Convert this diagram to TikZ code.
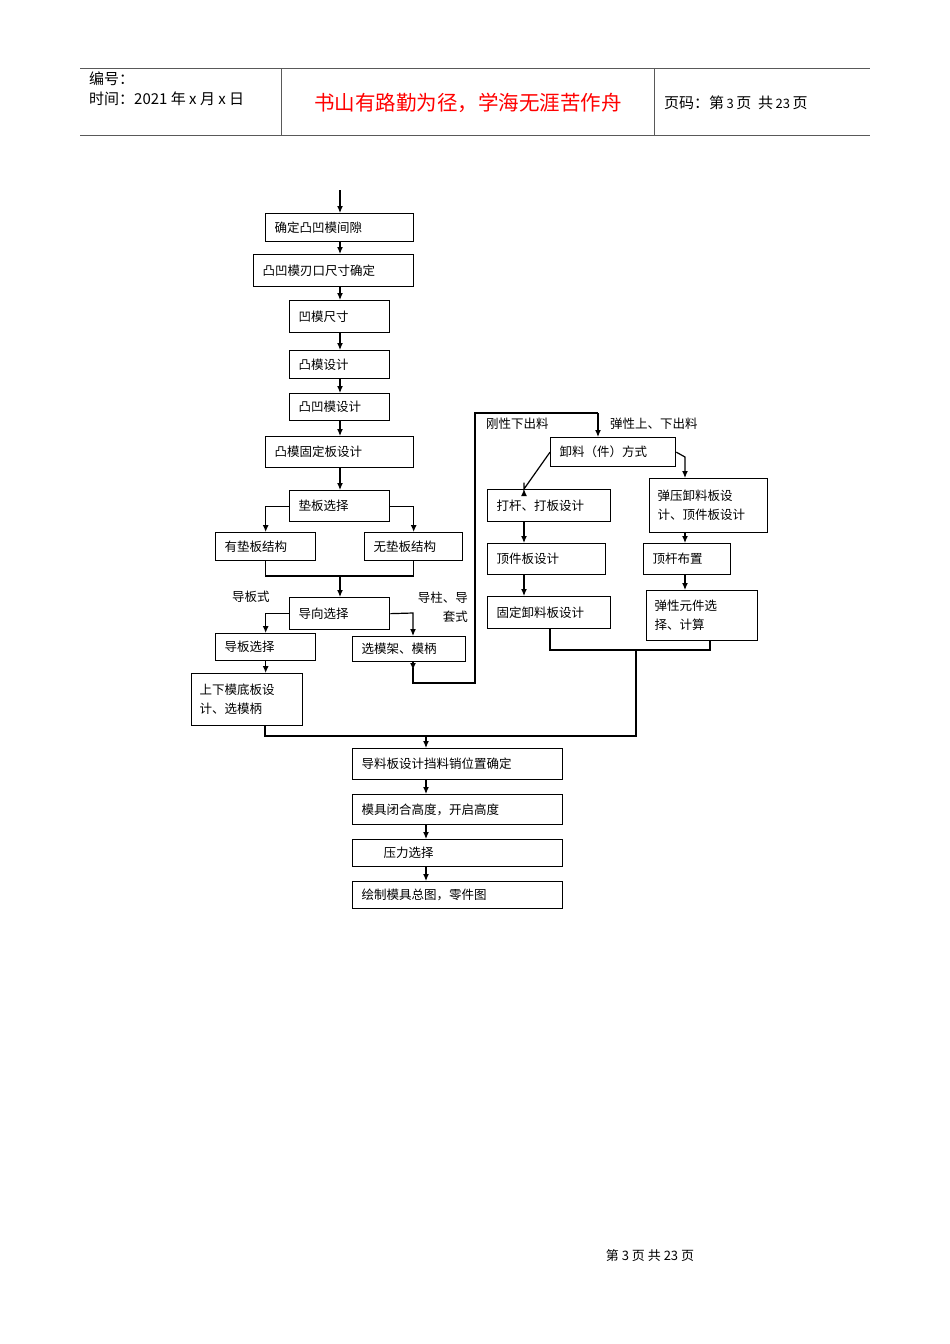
\documentclass[tikz,border=0pt]{standalone}
\usepackage{fontspec}
\setmainfont{Noto Sans CJK SC}
\usetikzlibrary{arrows.meta}
\begin{document}
\begin{tikzpicture}[x=1pt,y=-1pt,
 bx/.style={draw,line width=1.3pt,rectangle,anchor=north west,inner xsep=9pt,inner ysep=0pt,align=left,font=\fontsize{12.5}{19}\selectfont},
 ln/.style={line width=1.2pt},
 ar/.style={line width=1.2pt,-{Latex[length=7pt,width=6pt]}},
 lb/.style={inner sep=0,font=\fontsize{12.5}{19}\selectfont}]
\useasboundingbox (0,0) rectangle (950,1344);
% header
\draw[line width=0.8pt,gray!70!black] (80,68)--(870,68) (80,135)--(870,135) (281,68)--(281,135) (654,68)--(654,135);
\node[anchor=west,inner sep=0,font=\fontsize{15}{17}\selectfont] (h1) at (89,79) {编号：};
\node[anchor=west,inner sep=0,font=\fontsize{15}{17}\selectfont] (h2) at (89,99) {时间：2021 年 x 月 x 日};
\node[anchor=center,font=\fontsize{20.5}{22}\selectfont,text=red] (h3) at (468,103) {书山有路勤为径，学海无涯苦作舟};
\node[anchor=west,inner sep=0,font=\fontsize{15}{17}\selectfont] (h4) at (664,103) {页码：第\,{\fontsize{13}{14}\selectfont 3}\,页\ \ 共\,{\fontsize{13}{14}\selectfont 23}\,页};
\node[font=\fontsize{13}{14}\selectfont] (ft) at (650,1256) {第\ 3\ 页\ 共\ 23\ 页};
% boxes
\node[bx,minimum width=148,minimum height=28,text width=130] (b1) at (265,213) {确定凸凹模间隙};
\node[bx,minimum width=160,minimum height=32,text width=142] (b2) at (253,254) {凸凹模刃口尺寸确定};
\node[bx,minimum width=100,minimum height=32,text width=82] (b3) at (289,300) {凹模尺寸};
\node[bx,minimum width=100,minimum height=28,text width=82] (b4) at (289,350) {凸模设计};
\node[bx,minimum width=100,minimum height=27,text width=82] (b5) at (289,393) {凸凹模设计};
\node[bx,minimum width=148,minimum height=31,text width=130] (b6) at (265,436) {凸模固定板设计};
\node[bx,minimum width=100,minimum height=31,text width=82] (b7) at (289,490) {垫板选择};
\node[bx,minimum width=100,minimum height=28,text width=82] (b8) at (215,532) {有垫板结构};
\node[bx,minimum width=98,minimum height=28,text width=80] (b9) at (364,532) {无垫板结构};
\node[bx,minimum width=100,minimum height=32,text width=82] (b10) at (289,597) {导向选择};
\node[bx,minimum width=100,minimum height=27,text width=82] (b11) at (215,633) {导板选择};
\node[bx,minimum width=113,minimum height=25,text width=95] (b12) at (352,636) {选模架、模柄};
\node[bx,minimum width=111,minimum height=52,text width=95,inner xsep=8pt] (b13) at (191,673) {上下模底板设\\计、选模柄};
\node[bx,minimum width=125,minimum height=29,text width=107] (r1) at (550,437) {卸料（件）方式};
\node[bx,minimum width=123,minimum height=32,text width=105] (r2) at (487,489) {打杆、打板设计};
\node[bx,minimum width=118,minimum height=31,text width=100] (r3) at (487,543) {顶件板设计};
\node[bx,minimum width=123,minimum height=32,text width=105] (r4) at (487,596) {固定卸料板设计};
\node[bx,minimum width=118,minimum height=54,text width=102,inner xsep=8pt] (r5) at (649,478) {弹压卸料板设\\计、顶件板设计};
\node[bx,minimum width=87,minimum height=31,text width=69] (r6) at (643,543) {顶杆布置};
\node[bx,minimum width=111,minimum height=50,text width=95,inner xsep=8pt] (r7) at (646,590) {弹性元件选\\择、计算};
\node[bx,minimum width=210,minimum height=31,text width=192] (f1) at (352,748) {导料板设计挡料销位置确定};
\node[bx,minimum width=210,minimum height=30,text width=192] (f2) at (352,794) {模具闭合高度，开启高度};
\node[bx,minimum width=210,minimum height=27,text width=192] (f3) at (352,839) {\hspace{22pt}压力选择};
\node[bx,minimum width=210,minimum height=27,text width=192] (f4) at (352,881) {绘制模具总图，零件图};
% labels
\node[lb,anchor=west] (l1) at (232,597) {导板式};
\node[lb,align=right,anchor=east] (l2) at (468,607) {导柱、导\\套式};
\node[lb,anchor=west] (l3) at (486,424) {刚性下出料};
\node[lb,anchor=west] (l4) at (610,424) {弹性上、下出料};
% connectors
\coordinate (top) at (340,190);
\draw[ar] (top) -- (b1.north -| top);
\draw[ar] (b1.south -| top)--(b2.north -| top);
\draw[ar] (b2.south -| top)--(b3.north -| top);
\draw[ar] (b3.south -| top)--(b4.north -| top);
\draw[ar] (b4.south -| top)--(b5.north -| top);
\draw[ar] (b5.south -| top)--(b6.north -| top);
\draw[ar] (b6.south -| top)--(b7.north -| top);
\draw[ar] (b7.west)--(b8.north |- b7.west)--(b8.north);
\draw[ar] (b7.east)--(b9.north |- b7.east)--(b9.north);
\coordinate (m1) at (340,576);
\draw[ln] (b8.south)--(b8.south |- m1)--(b9.south |- m1)--(b9.south);
\draw[ar] (m1)--(b10.north -| m1);
\coordinate (k2) at (413,613);
\draw[ar] (b10.west)--(b11.north |- b10.west)--(b11.north);
\draw[ar] (b10.east)--(k2)--(b12.north -| k2);
\draw[ar] (b11.south)--(b13.north -| b11.south);
\coordinate (c0) at (413,683);
\coordinate (c1) at (598,413);
\draw[ar] (b12.south -| c0)--(413,670);
\draw[ln] (413,668)--(c0)--(475,683)--(475,413)--(c1);
\draw[ar] (c1)--(r1.north -| c1);
\draw[ar] (r1.west)--(r2.north -| 524,0 |- r1.west)--(524,489);
\coordinate (x1) at (524,457);
\coordinate (x2) at (685,457);
\draw[ar] (r1.east)--(x2)--(r5.north -| x2);
\draw[ar] (r2.south -| x1)--(r3.north -| x1);
\draw[ar] (r3.south -| x1)--(r4.north -| x1);
\draw[ar] (r5.south -| x2)--(r6.north -| x2);
\draw[ar] (r6.south -| x2)--(r7.north -| x2);
\coordinate (j1) at (636,650);
\coordinate (j2) at (426,736);
\draw[ln] (r4.south -| 550,0)--(550,650)--(710,650)--(r7.south -| 710,0);
\draw[ln] (j1)--(636,736)--(265,736)--(b13.south -| 265,0);
\draw[ar] (j2)--(f1.north -| j2);
\draw[ar] (f1.south -| j2)--(f2.north -| j2);
\draw[ar] (f2.south -| j2)--(f3.north -| j2);
\draw[ar] (f3.south -| j2)--(f4.north -| j2);
\end{tikzpicture}
\end{document}
